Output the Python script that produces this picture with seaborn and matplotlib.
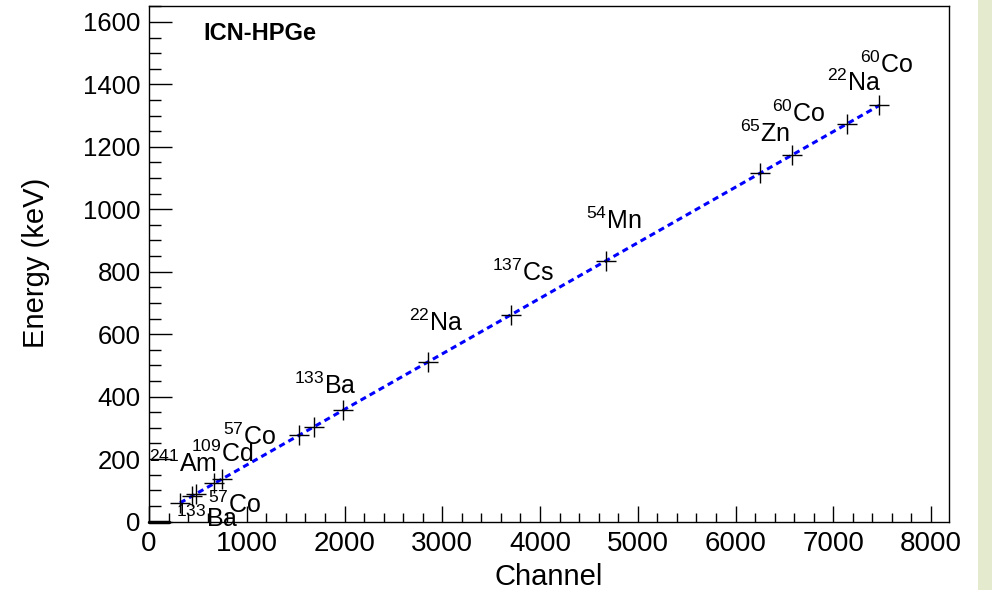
import numpy as np
import pandas as pd
import matplotlib
matplotlib.use("Agg")
import matplotlib.pyplot as plt
import seaborn as sns
from matplotlib.patches import Rectangle
from matplotlib.ticker import MultipleLocator

# calibration points (channel, gamma energy in keV)
channels = [317, 438, 477, 669, 749, 1536, 1684, 1983, 2854,
            3701, 4674, 6251, 6576, 7145, 7471]
energies = [59.5, 81.0, 88.0, 122.1, 136.5, 276.4, 302.9, 356.0, 511.0,
            661.7, 834.8, 1115.5, 1173.2, 1274.5, 1332.5]

# isotope labels and where they sit (data coords)
label_texts = ["241|Am", "109|Cd", "57|Co", "57|Co", "133|Ba", "133|Ba", "22|Na",
               "137|Cs", "54|Mn", "65|Zn", "60|Co", "22|Na", "60|Co"]
label_x = [5, 431, 758, 605, 277, 1484, 2661, 3510, 4472, 6047, 6374, 6937, 7275]
label_y = [160, 191, 245, 27, -18, 408, 610, 770, 937, 1216, 1280, 1379, 1437]

# short thick segment on the baseline near the origin
base_x = [0, 200]
base_y = [0, 0]

sns.set_theme(style="ticks")
plt.rcParams["font.family"] = ["Liberation Sans", "DejaVu Sans"]
plt.rcParams["mathtext.fontset"] = "custom"
plt.rcParams["mathtext.rm"] = "Liberation Sans"
plt.rcParams["mathtext.default"] = "regular"
for key in ["text.color", "axes.labelcolor", "xtick.color", "ytick.color",
            "xtick.labelcolor", "ytick.labelcolor"]:
    plt.rcParams[key] = "black"

df = pd.DataFrame({"Channel": channels, "Energy": energies})

# linear calibration fit
slope, icpt = np.polyfit(df["Channel"], df["Energy"], 1)
fit = pd.DataFrame({"Channel": [df["Channel"].min(), df["Channel"].max()]})
fit["Energy"] = slope * fit["Channel"] + icpt

fig = plt.figure(figsize=(9.92, 5.9), dpi=100)
fig.patch.set_facecolor("white")
fig.patches.append(Rectangle((978 / 992, 0), 14 / 992, 1, transform=fig.transFigure,
                             facecolor="#e3eacd", edgecolor="none", zorder=0))
ax = fig.add_axes([149 / 992, 1 - 521.5 / 590, 800 / 992, 515.5 / 590])

sns.lineplot(data=fit, x="Channel", y="Energy", ax=ax, color="#0000ff", lw=2.2,
             linestyle=(0, (2.0, 1.4)), zorder=2)
sns.scatterplot(data=df, x="Channel", y="Energy", ax=ax, marker="+", s=210,
                color="black", linewidth=1.0, zorder=3)
ax.plot(base_x, base_y, color="black", lw=2.5, clip_on=False, zorder=4)

for txt, lx, ly in zip(label_texts, label_x, label_y):
    iso, el = txt.split("|")
    ax.text(lx, ly, r"$^{%s}$%s" % (iso, el), fontsize=18, ha="left", va="baseline",
            color="black", zorder=5)

ax.text(0.0675, 0.934, "ICN-HPGe", transform=ax.transAxes, fontsize=17,
        fontweight="bold", ha="left", va="baseline", color="black")

ax.set_xlim(0, 8184)
ax.set_ylim(0, 1651)
ax.xaxis.set_major_locator(MultipleLocator(1000))
ax.xaxis.set_minor_locator(MultipleLocator(200))
ax.yaxis.set_major_locator(MultipleLocator(200))
ax.yaxis.set_minor_locator(MultipleLocator(50))
ax.tick_params(axis="x", which="major", direction="in", length=11.5, width=1,
               labelsize=20, pad=7, color="black", labelcolor="black")
ax.tick_params(axis="x", which="minor", direction="in", length=6.5, width=1, color="black")
ax.tick_params(axis="y", which="major", direction="in", length=16.5, width=1,
               labelsize=18.5, pad=6, color="black", labelcolor="black")
ax.tick_params(axis="y", which="minor", direction="in", length=8.5, width=1, color="black")
ax.tick_params(top=False, right=False, which="both")

for sp in ax.spines.values():
    sp.set_visible(True)
    sp.set_color("black")
    sp.set_linewidth(1.0)

ax.set_xlabel("Channel", fontsize=21, color="black")
ax.set_ylabel("Energy (keV)", fontsize=21, color="black")
ax.xaxis.set_label_coords(0.499, -0.08)
ax.yaxis.set_label_coords(-0.124, 0.502)

fig.savefig("out.png", dpi=100)
